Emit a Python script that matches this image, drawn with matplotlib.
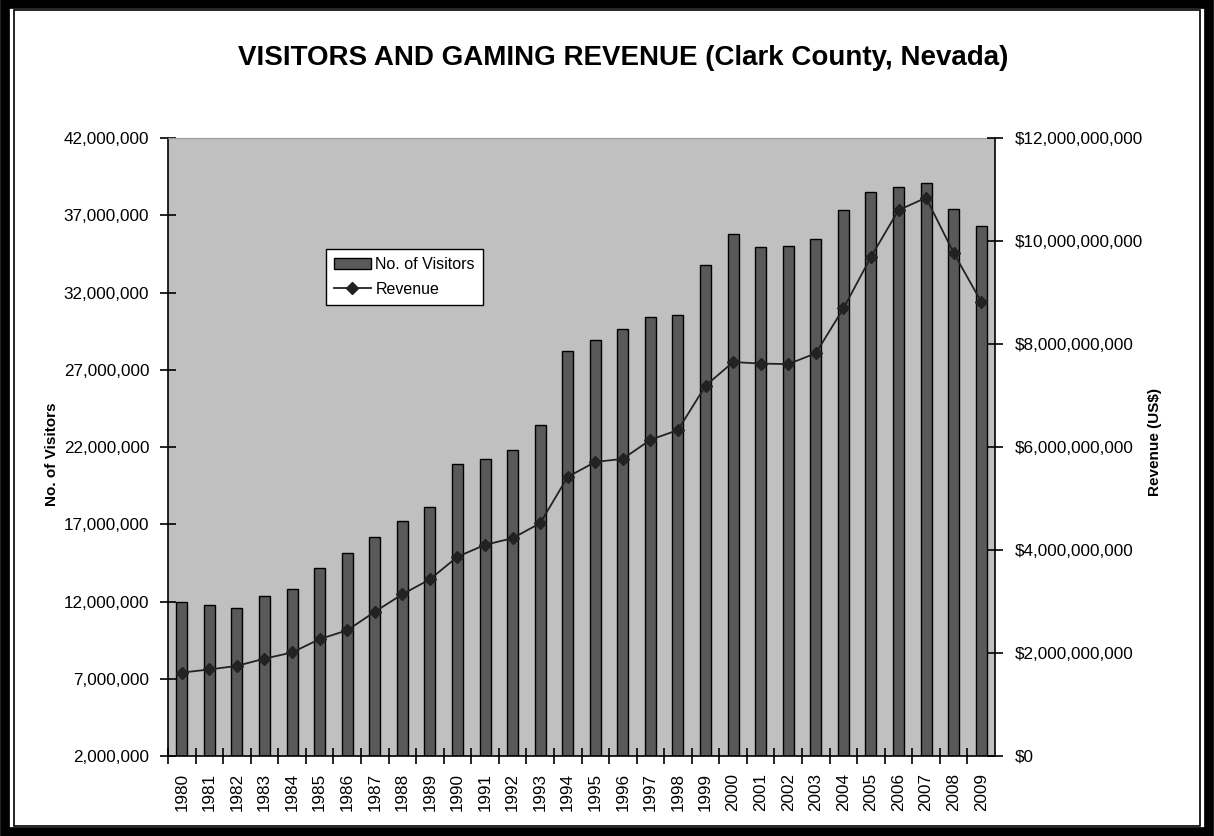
import matplotlib
matplotlib.use('Agg')
import matplotlib.pyplot as plt
from matplotlib.patches import Rectangle
from matplotlib.ticker import FuncFormatter, MultipleLocator

plt.rcParams['font.family'] = ['Liberation Sans', 'DejaVu Sans']

years = [str(y) for y in range(1980, 2010)]
visitors = [11.95, 11.77, 11.60, 12.36, 12.79, 14.15, 15.16, 16.20, 17.19, 18.14,
            20.93, 21.24, 21.83, 23.42, 28.19, 28.95, 29.62, 30.39, 30.54, 33.76,
            35.79, 34.94, 35.03, 35.46, 37.32, 38.50, 38.85, 39.09, 37.40, 36.28]  # millions
revenue = [1.62, 1.68, 1.75, 1.89, 2.01, 2.27, 2.44, 2.80, 3.14, 3.43,
           3.87, 4.10, 4.23, 4.52, 5.42, 5.71, 5.77, 6.14, 6.33, 7.19,
           7.65, 7.62, 7.61, 7.82, 8.69, 9.69, 10.60, 10.84, 9.77, 8.82]  # billions US$
visitor_ticks = [2e6, 7e6, 12e6, 17e6, 22e6, 27e6, 32e6, 37e6, 42e6]

x = list(range(len(years)))

fig = plt.figure(figsize=(12.14, 8.36), dpi=100)
fig.patch.set_facecolor('white')

# double frame round the chart
fig.patches.append(Rectangle((0.004, 0.005), 0.992, 0.990, transform=fig.transFigure,
                             fill=False, edgecolor='black', linewidth=7))
fig.patches.append(Rectangle((0.0115, 0.0125), 0.977, 0.975, transform=fig.transFigure,
                             fill=False, edgecolor='black', linewidth=1.2))

ax = fig.add_axes([0.1384, 0.0957, 0.6812, 0.7392])
ax.set_facecolor('#C0C0C0')
bars = ax.bar(x, [v * 1e6 for v in visitors], width=0.4, color='#595959',
              edgecolor='black', linewidth=1.0, label='No. of Visitors', zorder=2)
ax.set_xlim(-0.5, len(years) - 0.5)
ax.set_ylim(2e6, 42e6)
ax.set_yticks(visitor_ticks)
ax.yaxis.set_major_formatter(FuncFormatter(lambda v, p: '{:,.0f}'.format(v)))
ax.set_xticks(x)
ax.set_xticklabels(years, rotation=90, fontsize=12.3)
ax.set_xticks([i + 0.5 for i in x[:-1]] + [-0.5], minor=True)
ax.tick_params(axis='x', which='major', length=0, pad=12)
ax.tick_params(axis='x', which='minor', direction='inout', length=11, width=1.2)
ax.tick_params(axis='y', direction='inout', length=11, width=1.2, labelsize=12.3, pad=8)
ax.spines['top'].set_color('#999999')
ax.spines['top'].set_linewidth(0.8)
ax.spines['right'].set_visible(False)
ax.spines['left'].set_linewidth(1.2)
ax.spines['bottom'].set_linewidth(1.2)

ax2 = ax.twinx()
line, = ax2.plot(x, [r * 1e9 for r in revenue], color='#222222', linewidth=1.3,
                 marker='D', markersize=6.5, label='Revenue', zorder=3)
ax2.set_ylim(0, 12e9)
ax2.yaxis.set_major_locator(MultipleLocator(2e9))
ax2.yaxis.set_major_formatter(FuncFormatter(lambda v, p: '${:,.0f}'.format(v)))
ax2.tick_params(axis='y', direction='inout', length=11, width=1.2, labelsize=12.3, pad=9)
for s in ['top', 'left', 'bottom']:
    ax2.spines[s].set_visible(False)
ax2.spines['right'].set_linewidth(1.2)

leg = ax2.legend([bars, line], ['No. of Visitors', 'Revenue'], loc='upper left',
                 bbox_to_anchor=(0.191, 0.82), borderaxespad=0, fontsize=11.5,
                 fancybox=False, framealpha=1, edgecolor='black', handlelength=2.3,
                 handletextpad=0.3, borderpad=0.5, labelspacing=0.6)
leg.get_frame().set_linewidth(1.0)

fig.text(0.513, 0.931, 'VISITORS AND GAMING REVENUE (Clark County, Nevada)',
         ha='center', va='center', fontsize=20, fontweight='bold')
fig.text(0.0425, 0.457, 'No. of Visitors', rotation=90, ha='center', va='center',
         fontsize=11, fontweight='bold')
fig.text(0.951, 0.471, 'Revenue (US$)', rotation=90, ha='center', va='center',
         fontsize=11, fontweight='bold')

plt.savefig('out.png', dpi=100)
